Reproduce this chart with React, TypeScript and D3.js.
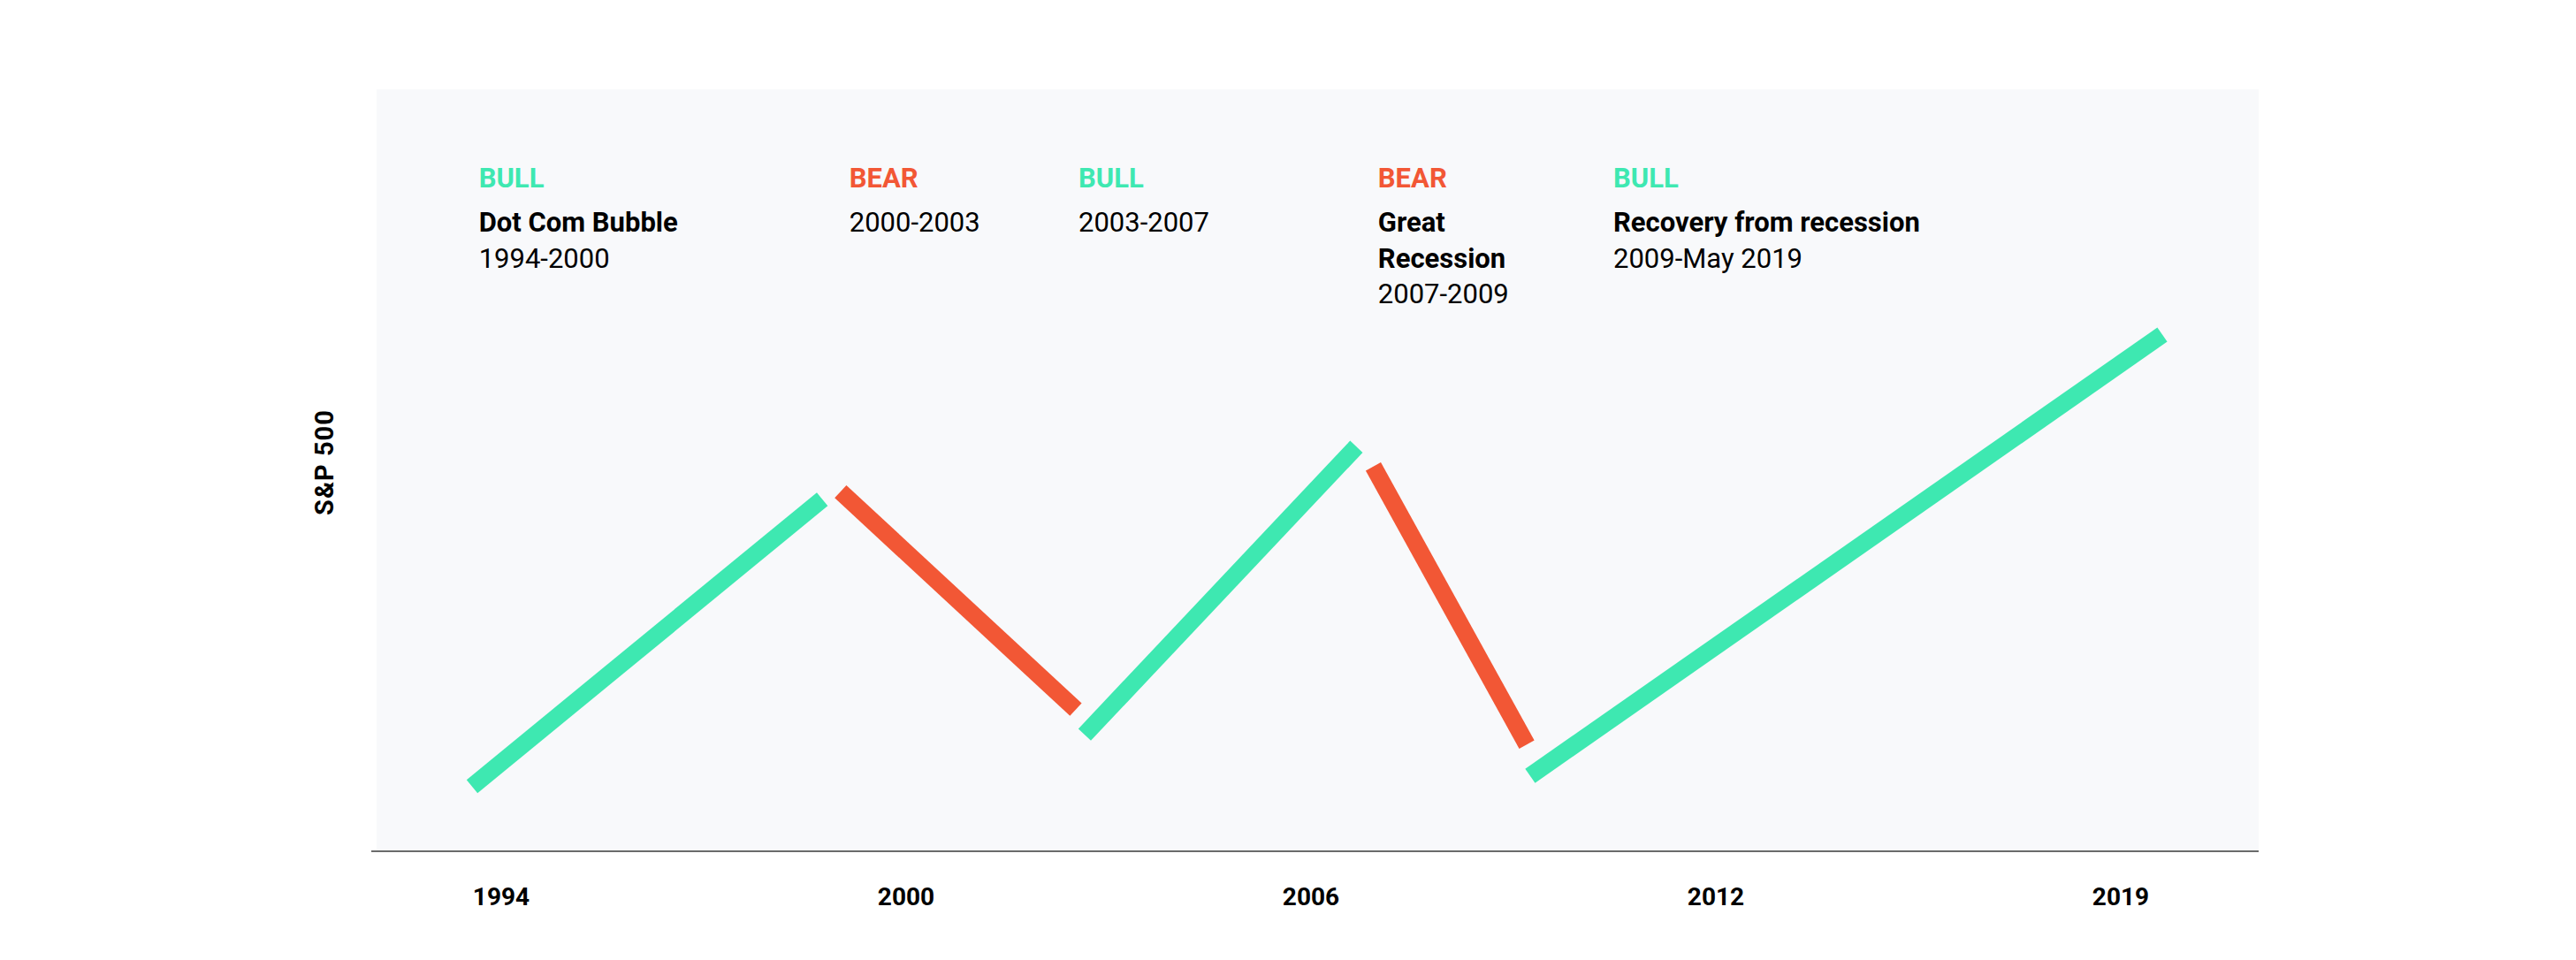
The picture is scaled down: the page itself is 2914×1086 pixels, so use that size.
import * as d3 from "d3";

// market phases
const phaseKinds = ["bull", "bear", "bull", "bear", "bull"];
const phaseLabels = ["BULL", "BEAR", "BULL", "BEAR", "BULL"];
const phaseTitles = [["Dot Com Bubble"], [], [], ["Great", "Recession"], ["Recovery from recession"]];
const phaseRanges = ["1994-2000", "2000-2003", "2003-2007", "2007-2009", "2009-May 2019"];
const startYears = [1994.0, 1999.45, 2003.06, 2007.33, 2009.65];
const endYears = [1999.18, 2002.93, 2007.08, 2009.6, 2019.0];
const startValues = [8.5, 47.2, 15.3, 50.5, 9.9];
const endValues = [46.2, 18.6, 53.1, 14.0, 67.8];
const labelYears = [1994.1, 1999.58, 2002.97, 2007.4, 2010.88];
const tickLabels = ["1994", "2000", "2006", "2012", "2019"];

const width = 2914;
const height = 1086;
const plotLeft = 426;
const plotRight = 2555;
const plotTop = 101;
const plotBottom = 963;

const colors: Record<string, string> = { bull: "#3ee8b1", bear: "#f25735" };
const font = "Roboto, 'Noto Sans', sans-serif";

export default function App() {
  const x = d3.scaleLinear().domain([1994, 2019]).range([534, 2446]);
  const y = d3.scaleLinear().domain([0, 100]).range([plotBottom, plotTop]);
  const xTick = d3.scalePoint<string>().domain(tickLabels).range([567, 2399]);

  const line = d3.line<[number, number]>()
    .x(d => x(d[0]))
    .y(d => y(d[1]));

  return (
    <svg
      width={width}
      height={height}
      style={{ position: "absolute", left: 0, top: 0, display: "block" }}
      fontFamily={font}
    >
      <rect x={0} y={0} width={width} height={height} fill="#ffffff" />
      <rect
        x={plotLeft}
        y={plotTop}
        width={plotRight - plotLeft}
        height={plotBottom - plotTop}
        fill="#f8f9fb"
      />
      <line x1={420} x2={plotRight} y1={plotBottom} y2={plotBottom} stroke="#3a3a3a" strokeWidth={1.6} />

      {phaseKinds.map((k, i) => (
        <path
          key={"seg" + i}
          d={line([[startYears[i], startValues[i]], [endYears[i], endValues[i]]]) as string}
          stroke={colors[k]}
          strokeWidth={19.5}
          strokeLinecap="butt"
          fill="none"
        />
      ))}

      {phaseKinds.map((k, i) => {
        const lx = x(labelYears[i]);
        const lines = [...phaseTitles[i], phaseRanges[i]];
        return (
          <g key={"lab" + i}>
            <text x={lx} y={212} fontSize={31} fontWeight={700} fill={colors[k]}>
              {phaseLabels[i]}
            </text>
            {lines.map((t, j) => (
              <text
                key={j}
                x={lx}
                y={262 + j * 40.5}
                fontSize={31}
                fontWeight={j < phaseTitles[i].length ? 700 : 400}
                fill="#000"
              >
                {t}
              </text>
            ))}
          </g>
        );
      })}

      {tickLabels.map(t => (
        <text
          key={t}
          x={xTick(t)}
          y={1024}
          textAnchor="middle"
          fontSize={28}
          fontWeight={700}
          fill="#000"
        >
          {t}
        </text>
      ))}

      <text
        transform={`translate(377,523) rotate(-90)`}
        textAnchor="middle"
        fontSize={29}
        fontWeight={700}
        letterSpacing={1}
        fill="#000"
      >
        S&amp;P 500
      </text>
    </svg>
  );
}
